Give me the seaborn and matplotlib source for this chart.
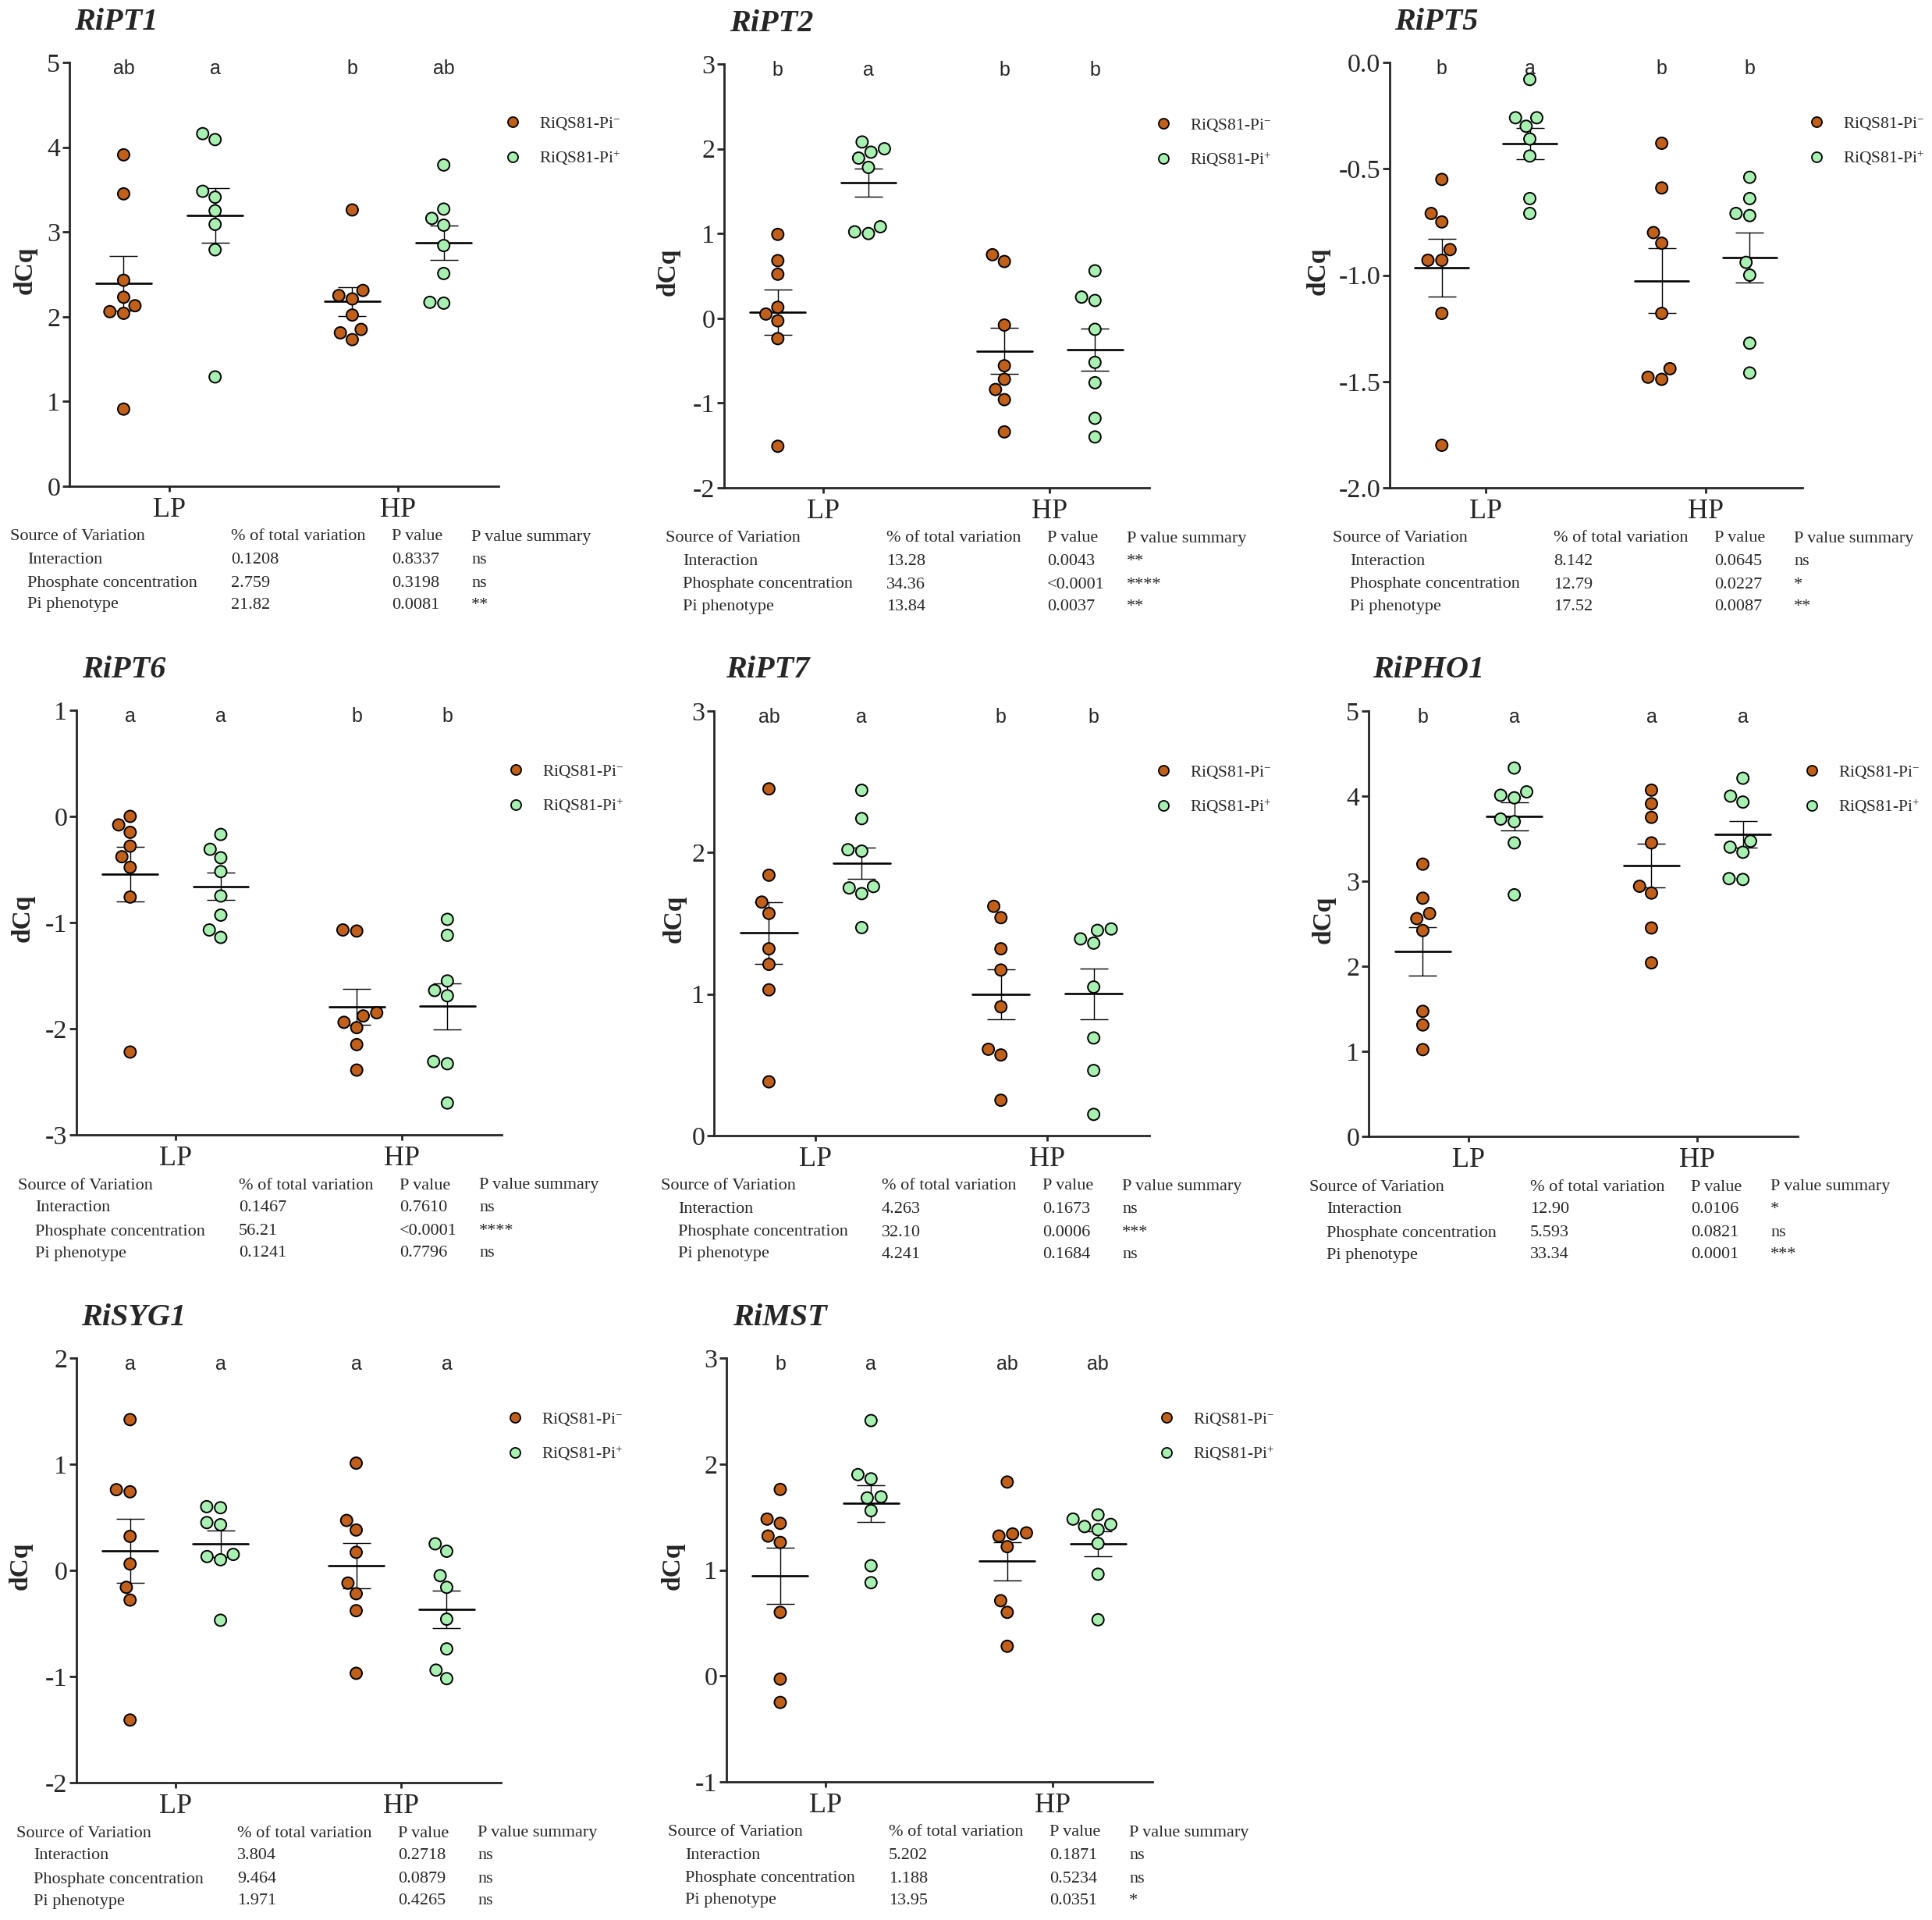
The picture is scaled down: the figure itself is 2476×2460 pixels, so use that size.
import numpy as np
import pandas as pd
import matplotlib
matplotlib.use("Agg")
import matplotlib.pyplot as plt
import matplotlib.transforms as mtransforms
from matplotlib.lines import Line2D
from matplotlib.ticker import FormatStrFormatter
import seaborn as sns

sns.set_style("ticks")
plt.rcParams["font.family"] = ["Liberation Serif", "DejaVu Serif"]
plt.rcParams["mathtext.fontset"] = "custom"
plt.rcParams["mathtext.rm"] = "Liberation Serif"
plt.rcParams["mathtext.it"] = "Liberation Serif:italic"
plt.rcParams["mathtext.bf"] = "Liberation Serif:bold"
plt.rcParams["axes.unicode_minus"] = False

#   Categories and labels
levels = ["LP", "HP"]
lines = ["RiQS81-Pi$^{-}$", "RiQS81-Pi$^{+}$"]
colors = ["#C0601A", "#A8EFB2"]
header = ["Source of Variation", "% of total variation", "P value", "P value summary"]
sources = ["Interaction", "Phosphate concentration", "Pi phenotype"]
genes = ["RiPT1", "RiPT2", "RiPT5", "RiPT6", "RiPT7", "RiPHO1", "RiSYG1", "RiMST"]

#   dCq values per gene, groups: LP Pi-, LP Pi+, HP Pi-, HP Pi+
ript1 = [[3.91, 3.45, 2.43, 2.23, 2.13, 2.06, 2.04, 0.91],
         [4.16, 4.09, 3.48, 3.41, 3.25, 3.09, 2.79, 1.29],
         [3.26, 2.31, 2.25, 2.21, 2.02, 1.85, 1.81, 1.73],
         [3.79, 3.27, 3.16, 3.08, 2.84, 2.51, 2.17, 2.16]]
ript2 = [[0.99, 0.68, 0.52, 0.13, 0.05, -0.03, -0.24, -1.51],
         [2.08, 2.00, 1.96, 1.89, 1.78, 1.08, 1.02, 1.00],
         [0.75, 0.67, -0.08, -0.56, -0.72, -0.84, -0.96, -1.34],
         [0.56, 0.25, 0.21, -0.13, -0.52, -0.76, -1.18, -1.40]]
ript5 = [[-0.55, -0.71, -0.75, -0.88, -0.93, -0.93, -1.18, -1.80],
         [-0.08, -0.26, -0.26, -0.30, -0.36, -0.44, -0.64, -0.71],
         [-0.38, -0.59, -0.80, -0.85, -1.18, -1.44, -1.49, -1.48],
         [-0.54, -0.64, -0.72, -0.71, -0.94, -1.00, -1.32, -1.46]]
ript6 = [[0.00, -0.08, -0.15, -0.28, -0.38, -0.48, -0.76, -2.22],
         [-0.17, -0.31, -0.39, -0.52, -0.75, -0.93, -1.07, -1.14],
         [-1.08, -1.07, -1.85, -1.88, -1.94, -1.99, -2.15, -2.39],
         [-0.97, -1.12, -1.55, -1.64, -1.69, -2.31, -2.33, -2.70]]
ript7 = [[2.45, 1.84, 1.65, 1.57, 1.32, 1.21, 1.03, 0.38],
         [2.44, 2.24, 2.02, 2.01, 1.76, 1.75, 1.71, 1.47],
         [1.62, 1.54, 1.32, 1.17, 0.91, 0.61, 0.57, 0.25],
         [1.46, 1.45, 1.39, 1.36, 1.05, 0.69, 0.46, 0.15]]
ripho1 = [[3.20, 2.80, 2.62, 2.56, 2.42, 1.47, 1.31, 1.02],
          [4.33, 4.01, 4.05, 3.98, 3.70, 3.73, 3.45, 2.84],
          [4.07, 3.91, 3.75, 3.45, 2.94, 2.86, 2.45, 2.04],
          [4.21, 4.00, 3.93, 3.47, 3.40, 3.34, 3.02, 3.03]]
risyg1 = [[1.42, 0.76, 0.74, 0.32, 0.06, -0.16, -0.28, -1.41],
          [0.59, 0.60, 0.45, 0.43, 0.15, 0.13, 0.10, -0.47],
          [1.01, 0.47, 0.38, 0.17, -0.12, -0.22, -0.38, -0.97],
          [0.25, 0.18, -0.05, -0.16, -0.46, -0.74, -0.94, -1.02]]
rimst = [[1.76, 1.48, 1.44, 1.32, 1.26, 0.60, -0.03, -0.25],
         [2.41, 1.90, 1.86, 1.69, 1.68, 1.56, 1.04, 0.88],
         [1.83, 1.35, 1.34, 1.32, 1.22, 0.71, 0.60, 0.28],
         [1.52, 1.48, 1.43, 1.41, 1.38, 1.25, 0.96, 0.53]]
values = [ript1, ript2, ript5, ript6, ript7, ripho1, risyg1, rimst]

#   y axis ticks per gene
yticks = [[0, 1, 2, 3, 4, 5], [-2, -1, 0, 1, 2, 3], [-2.0, -1.5, -1.0, -0.5, 0.0],
          [-3, -2, -1, 0, 1], [0, 1, 2, 3], [0, 1, 2, 3, 4, 5],
          [-2, -1, 0, 1, 2], [-1, 0, 1, 2, 3]]
tick_fmt = ["%d", "%d", "%.1f", "%d", "%d", "%d", "%d", "%d"]

#   significance letters (LP Pi-, LP Pi+, HP Pi-, HP Pi+)
letters = [["ab", "a", "b", "ab"], ["b", "a", "b", "b"], ["b", "a", "b", "b"],
           ["a", "a", "b", "b"], ["ab", "a", "b", "b"], ["b", "a", "a", "a"],
           ["a", "a", "a", "a"], ["b", "a", "ab", "ab"]]

#   two-way ANOVA tables
pct_var = [["0.1208", "2.759", "21.82"], ["13.28", "34.36", "13.84"],
           ["8.142", "12.79", "17.52"], ["0.1467", "56.21", "0.1241"],
           ["4.263", "32.10", "4.241"], ["12.90", "5.593", "33.34"],
           ["3.804", "9.464", "1.971"], ["5.202", "1.188", "13.95"]]
p_vals = [["0.8337", "0.3198", "0.0081"], ["0.0043", "<0.0001", "0.0037"],
          ["0.0645", "0.0227", "0.0087"], ["0.7610", "<0.0001", "0.7796"],
          ["0.1673", "0.0006", "0.1684"], ["0.0106", "0.0821", "0.0001"],
          ["0.2718", "0.0879", "0.4265"], ["0.1871", "0.5234", "0.0351"]]
p_sum = [["ns", "ns", "**"], ["**", "****", "**"], ["ns", "*", "**"],
         ["ns", "****", "ns"], ["ns", "***", "ns"], ["*", "ns", "***"],
         ["ns", "ns", "ns"], ["ns", "ns", "*"]]

#   layout in pixels: axes box (left, top, right, bottom), title x, ylabel x, table x
W, H = 2476, 2460
boxes = [(89, 80, 639, 623), (928, 82, 1473, 625), (1781, 80, 2310, 625),
         (98, 910, 643, 1454), (915, 911, 1473, 1455), (1754, 911, 2304, 1456),
         (98, 1740, 642, 2284), (931, 1740, 1477, 2283)]
title_x = [95, 935, 1787, 105, 930, 1759, 104, 939]
ylab_x = [32, 856, 1689, 29, 864, 1696, 26, 862]
table_x = [13, 853, 1708, 23, 847, 1678, 21, 856]
col_off = [0, 283, 489, 591]

fig = plt.figure(figsize=(W / 100, H / 100), dpi=100)


def fx(px):
    return px / W


def fy(py):
    return 1 - py / H


def draw_panel(i):
    left, top, right, bottom = boxes[i]
    wpx, hpx = right - left, bottom - top
    ax = fig.add_axes([fx(left), fy(bottom), wpx / W, hpx / H])

    groups = values[i]
    df = pd.DataFrame({
        "P": [levels[g // 2] for g, vals in enumerate(groups) for _ in vals],
        "line": [lines[g % 2] for g, vals in enumerate(groups) for _ in vals],
        "dCq": [v for vals in groups for v in vals],
    })
    sns.swarmplot(data=df, x="P", y="dCq", hue="line", order=levels, hue_order=lines,
                  dodge=True, palette=colors, size=10.8, edgecolor="black",
                  linewidth=1.4, legend=False, ax=ax, zorder=5)

    #   mean +/- SEM
    trans = mtransforms.blended_transform_factory(ax.transData, ax.transAxes)
    for g, vals in enumerate(groups):
        v = np.asarray(vals)
        m = v.mean()
        se = v.std(ddof=1) / np.sqrt(len(v))
        x = g // 2 + (g % 2 - 0.5) * 0.4
        ax.plot([x - 0.122, x + 0.122], [m, m], color="black", lw=1.9, zorder=4)
        ax.errorbar(x, m, yerr=se, fmt="none", ecolor="black", elinewidth=1.0,
                    capsize=13, capthick=1.0, zorder=4)
        ax.text(x, 0.985, letters[i][g], transform=trans, ha="center", va="center",
                fontsize=18, family="Liberation Sans")

    ticks = yticks[i]
    ax.set_xlim(-0.437, 1.44)
    ax.set_ylim(ticks[0], ticks[-1])
    ax.set_yticks(ticks)
    ax.yaxis.set_major_formatter(FormatStrFormatter(tick_fmt[i]))
    ax.set_xlabel("")
    ax.set_ylabel("")
    for s in ["top", "right"]:
        ax.spines[s].set_visible(False)
    for s in ["left", "bottom"]:
        ax.spines[s].set_linewidth(2.0)
    ax.tick_params(axis="y", length=6.5, width=2.0, labelsize=24.5, pad=2)
    ax.tick_params(axis="x", length=5, width=2.0, labelsize=26, pad=5)

    #   legend
    handles = [Line2D([], [], marker="o", linestyle="none", markersize=9.4,
                      markerfacecolor=c, markeredgecolor="black", markeredgewidth=1.3)
               for c in colors]
    ax.legend(handles, lines, loc="upper left",
              bbox_to_anchor=(1 + 9 / wpx, 1 - 68 / hpx), frameon=False,
              fontsize=15.5, handlelength=0.8, handletextpad=1.18,
              labelspacing=1.0, borderpad=0, borderaxespad=0)

    #   titles
    fig.text(fx(title_x[i]), fy(top - 52), genes[i], fontsize=29, fontweight="bold",
             fontstyle="italic", ha="left", va="center")
    fig.text(fx(ylab_x[i]), fy(top + hpx * 0.49), "dCq", fontsize=24, fontweight="bold",
             rotation=90, ha="center", va="center")

    #   ANOVA table
    x0 = table_x[i]
    for k, h in enumerate(header):
        fig.text(fx(x0 + col_off[k]), fy(bottom + 65), h, fontsize=16, va="center")
    for r, y_off in enumerate([94, 124, 152]):
        fig.text(fx(x0 + 22), fy(bottom + y_off), sources[r], fontsize=16, va="center")
        fig.text(fx(x0 + col_off[1]), fy(bottom + y_off), pct_var[i][r], fontsize=16, va="center")
        fig.text(fx(x0 + col_off[2]), fy(bottom + y_off), p_vals[i][r], fontsize=16, va="center")
        fig.text(fx(x0 + col_off[3]), fy(bottom + y_off), p_sum[i][r], fontsize=16, va="center")


for i in range(len(genes)):
    draw_panel(i)

fig.savefig("out.png", dpi=100, facecolor="white")
